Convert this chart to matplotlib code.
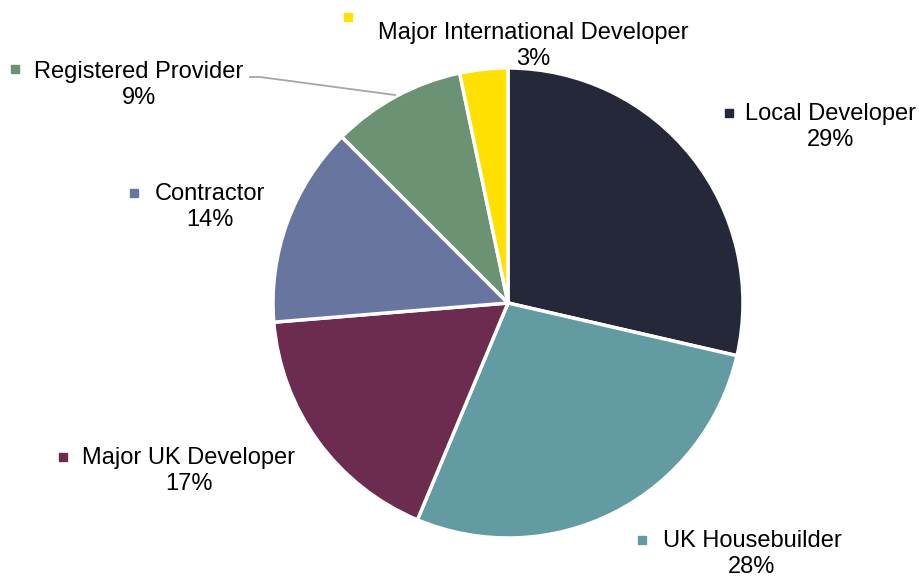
import matplotlib.pyplot as plt

plt.rcParams['font.family'] = ['Liberation Sans', 'DejaVu Sans']

labels = ["Local Developer", "UK Housebuilder", "Major UK Developer",
          "Contractor", "Registered Provider", "Major International Developer"]
shares = [28.6, 27.7, 17.4, 13.8, 9.2, 3.3]
colors = ["#252839", "#629BA2", "#6B2C4F", "#68759F", "#6B9373", "#FFE000"]

W, H = 920, 578
cx, cy, r = 508, 303, 235


def px(x, y):
    # pixel position -> data coords (pie radius = 1)
    return (x - cx) / r, (cy - y) / r


# label text centre (px) and marker position (px)
label_pos = [(831, 127), (752, 554), (189, 471), (210, 207), (139, 85), (533, 46)]
marker_pos = [(729, 113), (642, 540), (63, 457), (134, 193), (15, 69), (348, 17)]

fig = plt.figure(figsize=(W / 100, H / 100), dpi=100)
ax = fig.add_axes([0, 0, 1, 1])
ax.pie(shares, colors=colors, startangle=90, counterclock=False, radius=1,
       wedgeprops=dict(edgecolor='white', linewidth=2.5))
ax.set_xlim(-cx / r, (W - cx) / r)
ax.set_ylim(-(H - cy) / r, cy / r)
ax.set_aspect('equal')
ax.axis('off')

for lab, val, col, lp, mp in zip(labels, shares, colors, label_pos, marker_pos):
    tx, ty = px(*lp)
    ax.text(tx, ty, f"{lab}\n{val:.0f}%", ha='center', va='center',
            fontsize=17, color='black', linespacing=1.2)
    mx, my = px(*mp)
    ax.plot(mx, my, marker='s', markersize=6, color=col, linestyle='none')

# leader line for Registered Provider
lx, ly = zip(px(250, 77), px(260, 77), px(395, 95))
ax.plot(lx, ly, color='#A6A6A6', linewidth=1.3)

fig.savefig('out.png', dpi=100)
